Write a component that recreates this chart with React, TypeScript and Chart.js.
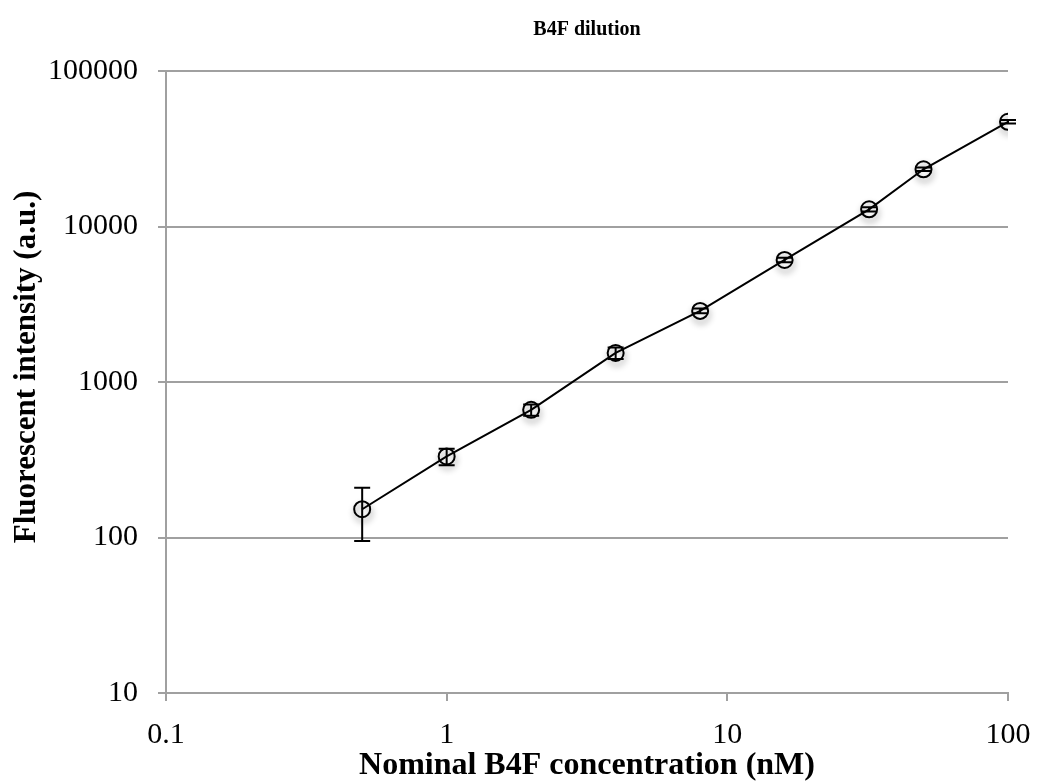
import React, { useEffect, useRef } from "react";
import { Chart, registerables } from "chart.js";

Chart.register(...registerables);

// Nominal B4F concentrations (nM) and measured fluorescence (a.u.)
const concentrations = [0.5, 1, 2, 4, 8, 16, 32, 50, 100];
const intensity = [152, 332, 662, 1538, 2865, 6093, 12897, 23330, 47150];
// Standard deviation of each measurement (a.u.)
const errors = [57, 40, 55, 130, 100, 200, 400, 600, 1200];

const xTicks = [0.1, 1, 10, 100];
const yTicks = [10, 100, 1000, 10000, 100000];

const chartTitle = "B4F dilution";
const xTitle = "Nominal B4F concentration (nM)";
const yTitle = "Fluorescent intensity (a.u.)";

const SERIF = "'Liberation Serif', 'Times New Roman', serif";
const GRID = "#a0a0a0";

// Chart title centred over the plotting area, and the rotated y-axis title
const titlesPlugin = {
  id: "titles",
  afterDraw(chart: any) {
    const { ctx, chartArea } = chart;
    ctx.save();
    ctx.fillStyle = "#000";
    ctx.textAlign = "center";
    ctx.textBaseline = "middle";
    ctx.font = `bold 20px ${SERIF}`;
    ctx.fillText(chartTitle, (chartArea.left + chartArea.right) / 2, 30);
    ctx.translate(27, 367);
    ctx.rotate(-Math.PI / 2);
    ctx.font = `bold 31px ${SERIF}`;
    ctx.fillText(yTitle, 0, 0);
    ctx.restore();
  },
};

// Vertical error bars with caps, drawn through the chart's scales
const errorBarPlugin = {
  id: "errorBars",
  afterDatasetsDraw(chart: any) {
    const { ctx, scales } = chart;
    const xs = scales.x;
    const ys = scales.y;
    ctx.save();
    ctx.strokeStyle = "#000";
    ctx.lineWidth = 2;
    concentrations.forEach((c, i) => {
      const px = xs.getPixelForValue(c);
      const top = ys.getPixelForValue(intensity[i] + errors[i]);
      const bot = ys.getPixelForValue(intensity[i] - errors[i]);
      const cap = 8;
      ctx.beginPath();
      ctx.moveTo(px, top);
      ctx.lineTo(px, bot);
      ctx.moveTo(px - cap, top);
      ctx.lineTo(px + cap, top);
      ctx.moveTo(px - cap, bot);
      ctx.lineTo(px + cap, bot);
      ctx.stroke();
    });
    ctx.restore();
  },
};

// Soft drop shadow under the circular markers
const markerShadowPlugin = {
  id: "markerShadow",
  beforeDatasetDraw(chart: any, args: any) {
    if (args.index !== 1) return;
    const ctx = chart.ctx;
    ctx.save();
    ctx.shadowColor = "rgba(0,0,0,0.45)";
    ctx.shadowBlur = 6;
    ctx.shadowOffsetX = 1;
    ctx.shadowOffsetY = 4;
  },
  afterDatasetDraw(chart: any, args: any) {
    if (args.index !== 1) return;
    chart.ctx.restore();
  },
};

export default function App() {
  const canvasRef = useRef<HTMLCanvasElement | null>(null);

  useEffect(() => {
    const canvas = canvasRef.current;
    if (!canvas) return;
    const points = concentrations.map((c, i) => ({ x: c, y: intensity[i] }));

    const chart = new Chart(canvas, {
      type: "scatter",
      data: {
        datasets: [
          {
            data: points,
            showLine: true,
            borderColor: "#000",
            borderWidth: 2,
            pointRadius: 0,
            fill: false,
          },
          {
            data: points,
            showLine: false,
            pointRadius: 8,
            pointBorderWidth: 2,
            pointBorderColor: "#000",
            pointBackgroundColor: "rgba(255,255,255,0)",
          },
        ],
      },
      plugins: [markerShadowPlugin, errorBarPlugin, titlesPlugin],
      options: {
        responsive: false,
        animation: false,
        layout: { padding: { left: 0, right: 29, top: 71, bottom: 0 } },
        plugins: {
          legend: { display: false },
          tooltip: { enabled: false },
          title: { display: false },
        },
        scales: {
          x: {
            type: "logarithmic",
            min: 0.1,
            max: 100,
            afterBuildTicks: (scale: any) => {
              scale.ticks = xTicks.map((v) => ({ value: v }));
            },
            afterFit: (scale: any) => {
              scale.height = 89;
              scale.paddingLeft = 0;
              scale.paddingRight = 0;
            },
            ticks: {
              color: "#000",
              font: { family: SERIF, size: 30 },
              padding: 16,
              maxRotation: 0,
              autoSkip: false,
              callback: (v: any) => String(v),
            },
            grid: {
              display: true,
              drawOnChartArea: false,
              drawTicks: true,
              tickLength: 8,
              color: GRID,
              lineWidth: 2,
            },
            border: { display: true, color: GRID, width: 2 },
            title: {
              display: true,
              text: xTitle,
              color: "#000",
              font: { family: SERIF, size: 32, weight: "bold", lineHeight: 1.0 },
              padding: { top: 0, bottom: 0 },
            },
          },
          y: {
            type: "logarithmic",
            min: 10,
            max: 100000,
            afterBuildTicks: (scale: any) => {
              scale.ticks = yTicks.map((v) => ({ value: v }));
            },
            afterFit: (scale: any) => {
              scale.width = 166;
              scale.paddingTop = 0;
              scale.paddingBottom = 0;
            },
            ticks: {
              color: "#000",
              font: { family: SERIF, size: 30 },
              padding: 20,
              autoSkip: false,
              callback: (v: any) => String(v),
            },
            grid: {
              display: true,
              drawOnChartArea: true,
              drawTicks: true,
              tickLength: 8,
              color: GRID,
              lineWidth: 2,
            },
            border: { display: true, color: GRID, width: 2 },
            title: { display: false },
          },
        },
      },
    } as any);

    return () => chart.destroy();
  }, []);

  return (
    <div style={{ position: "absolute", left: 0, top: 0, width: 1037, height: 782, background: "#fff" }}>
      <canvas ref={canvasRef} width={1037} height={782} style={{ display: "block" }} />
    </div>
  );
}
